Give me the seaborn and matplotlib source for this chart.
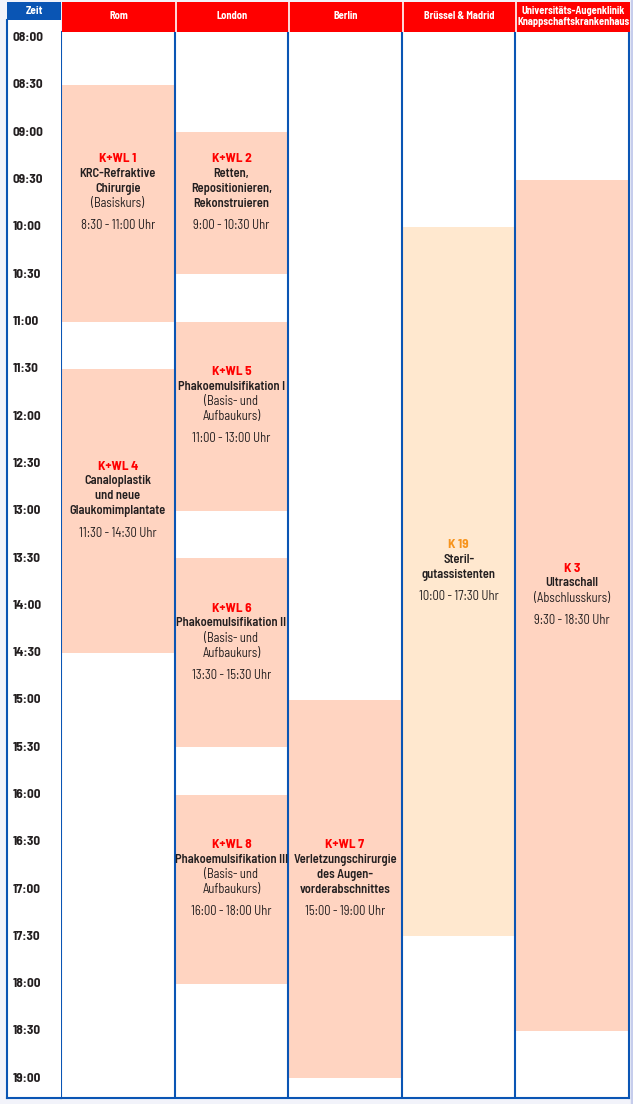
import matplotlib
matplotlib.use('Agg')
import matplotlib.pyplot as plt
import matplotlib.transforms as mtransforms
from matplotlib.patches import Rectangle
import seaborn as sns
import pandas as pd

# --- data -------------------------------------------------------------
columns = ['Rom', 'London', 'Berlin', 'Brüssel & Madrid',
           'Universitäts-Augenklinik\nKnappschaftskrankenhaus']
time_labels = ['08:00', '08:30', '09:00', '09:30', '10:00', '10:30', '11:00',
               '11:30', '12:00', '12:30', '13:00', '13:30', '14:00', '14:30',
               '15:00', '15:30', '16:00', '16:30', '17:00', '17:30', '18:00',
               '18:30', '19:00']

course_codes = ['K+WL 1', 'K+WL 4', 'K+WL 2', 'K+WL 5', 'K+WL 6', 'K+WL 8',
                'K+WL 7', 'K 19', 'K 3']
course_column = ['Rom', 'Rom', 'London', 'London', 'London', 'London',
                 'Berlin', 'Brüssel & Madrid',
                 'Universitäts-Augenklinik\nKnappschaftskrankenhaus']
course_start = [8.5, 11.5, 9.0, 11.0, 13.5, 16.0, 15.0, 10.0, 9.5]
course_end = [11.0, 14.5, 10.5, 13.0, 15.5, 18.0, 19.0, 17.5, 18.5]
course_titles = [['KRC-Refraktive', 'Chirurgie'],
                 ['Canaloplastik', 'und neue', 'Glaukomimplantate'],
                 ['Retten,', 'Repositionieren,', 'Rekonstruieren'],
                 ['Phakoemulsifikation I'],
                 ['Phakoemulsifikation II'],
                 ['Phakoemulsifikation III'],
                 ['Verletzungschirurgie', 'des Augen-', 'vorderabschnittes'],
                 ['Steril-', 'gutassistenten'],
                 ['Ultraschall']]
course_notes = [['(Basiskurs)'], [], [],
                ['(Basis- und', 'Aufbaukurs)'],
                ['(Basis- und', 'Aufbaukurs)'],
                ['(Basis- und', 'Aufbaukurs)'],
                [], [], ['(Abschlusskurs)']]
course_kind = ['kurs'] * 7 + ['assistenz', 'kurs']

# --- style ------------------------------------------------------------
W, H, DPI = 633, 1104, 100
BLUE = '#0a55b4'
RED = '#ff0000'
DARK = '#231f20'
FILL = {'kurs': '#ffd4c1', 'assistenz': '#ffe8cf'}
CODE_COLOR = {'kurs': '#ff0000', 'assistenz': '#f7941d'}

# pixel layout of the time scale
Y_0800 = 37.7
PX_PER_HOUR = 94.6


def px_to_hour(y):
    return 8 + (y - Y_0800) / PX_PER_HOUR


def hour_label(t):
    h = int(t)
    m = int(round((t - h) * 60))
    return f'{h}:{m:02d}'


sns.set_theme(style='white')
plt.rcParams['font.family'] = ['Barlow Semi Condensed', 'DejaVu Sans']

df = pd.DataFrame({'code': course_codes, 'column': course_column,
                   'start': course_start, 'end': course_end,
                   'titles': course_titles, 'notes': course_notes,
                   'kind': course_kind})
df['x'] = df['column'].map({c: i for i, c in enumerate(columns)})

fig = plt.figure(figsize=(W / DPI, H / DPI), dpi=DPI, facecolor='#f2f3fa')
fig.patches.append(Rectangle((631 / W, 0), 2 / W, 1, transform=fig.transFigure,
                             color='#c6cdec', zorder=0))


def px_axes(x0, y0, x1, y1):
    return fig.add_axes([x0 / W, 1 - y1 / H, (x1 - x0) / W, (y1 - y0) / H])


# --- main grid --------------------------------------------------------
ax = px_axes(61, 32, 629, 1098)
ax.set_facecolor('white')
ax.set_xlim(-0.5, len(columns) - 0.5)
ax.set_ylim(px_to_hour(1098), px_to_hour(32))

for kind, sub in df.groupby('kind'):
    ax.bar(sub['x'], sub['end'] - sub['start'], bottom=sub['start'], width=1,
           color=FILL[kind], linewidth=0, zorder=1)

for i in range(1, len(columns)):
    ax.axvline(i - 0.5, color=BLUE, lw=1.5, zorder=3)

ax.spines['top'].set_visible(False)
for side in ['left', 'right', 'bottom']:
    ax.spines[side].set_color(BLUE)
    ax.spines[side].set_linewidth(1.5)
    ax.spines[side].set_zorder(4)
ax.set_xticks([])
ax.set_yticks([])

LINE = 15
TIME_GAP = 22
for _, row in df.iterrows():
    lines = [(row['code'], CODE_COLOR[row['kind']], 'bold', 9.5)]
    lines += [(t, DARK, 'semibold', 9) for t in row['titles']]
    lines += [(n, DARK, 'normal', 9) for n in row['notes']]
    stack = LINE * (len(lines) - 1) + TIME_GAP
    lines.append((f"{hour_label(row['start'])} - {hour_label(row['end'])} Uhr",
                  DARK, 'normal', 9))
    mid = (row['start'] + row['end']) / 2
    for j, (txt, col, weight, size) in enumerate(lines):
        pos = stack if j == len(lines) - 1 else LINE * j
        rel = -11 - stack / 2 + pos
        ax.annotate(txt, xy=(row['x'], mid), xytext=(0, -rel),
                    textcoords='offset pixels', ha='center', va='center',
                    color=col, fontweight=weight, fontsize=size, zorder=5)

# --- time column ------------------------------------------------------
ax_t = px_axes(7, 20, 61, 1098)
ax_t.set_facecolor('white')
ax_t.set_ylim(px_to_hour(1098), px_to_hour(20))
ax_t.set_xlim(0, 1)
ax_t.set_xticks([])
ax_t.set_yticks([])
for side in ['top', 'right']:
    ax_t.spines[side].set_visible(False)
for side in ['left', 'bottom']:
    ax_t.spines[side].set_color(BLUE)
    ax_t.spines[side].set_linewidth(1.5)
trans = mtransforms.blended_transform_factory(ax_t.transAxes, ax_t.transData)
for lab in time_labels:
    h, m = lab.split(':')
    ax_t.text(0.11, int(h) + int(m) / 60, lab, transform=trans, ha='left',
              va='center', fontsize=9.5, fontweight='bold', color=DARK)

# --- headers ----------------------------------------------------------
ax_z = px_axes(7, 2, 61, 20)
ax_z.set_facecolor(BLUE)
ax_z.set_xticks([])
ax_z.set_yticks([])
for s in ax_z.spines.values():
    s.set_visible(False)
ax_z.text(0.5, 0.5, 'Zeit', ha='center', va='center', color='white',
          fontsize=8, fontweight='bold', transform=ax_z.transAxes)

ax_h = px_axes(62, 2, 630, 32)
ax_h.set_facecolor(RED)
ax_h.set_xlim(-0.5, len(columns) - 0.5)
ax_h.set_ylim(0, 1)
ax_h.set_xticks([])
ax_h.set_yticks([])
for s in ax_h.spines.values():
    s.set_visible(False)
for i in range(1, len(columns)):
    ax_h.axvline(i - 0.5, color='white', lw=1.2)
for i, name in enumerate(columns):
    ax_h.text(i, 0.52, name, ha='center', va='center', color='white',
              fontsize=7.5, fontweight='bold', linespacing=1.15)

fig.savefig('out.png', dpi=DPI, facecolor=fig.get_facecolor())
